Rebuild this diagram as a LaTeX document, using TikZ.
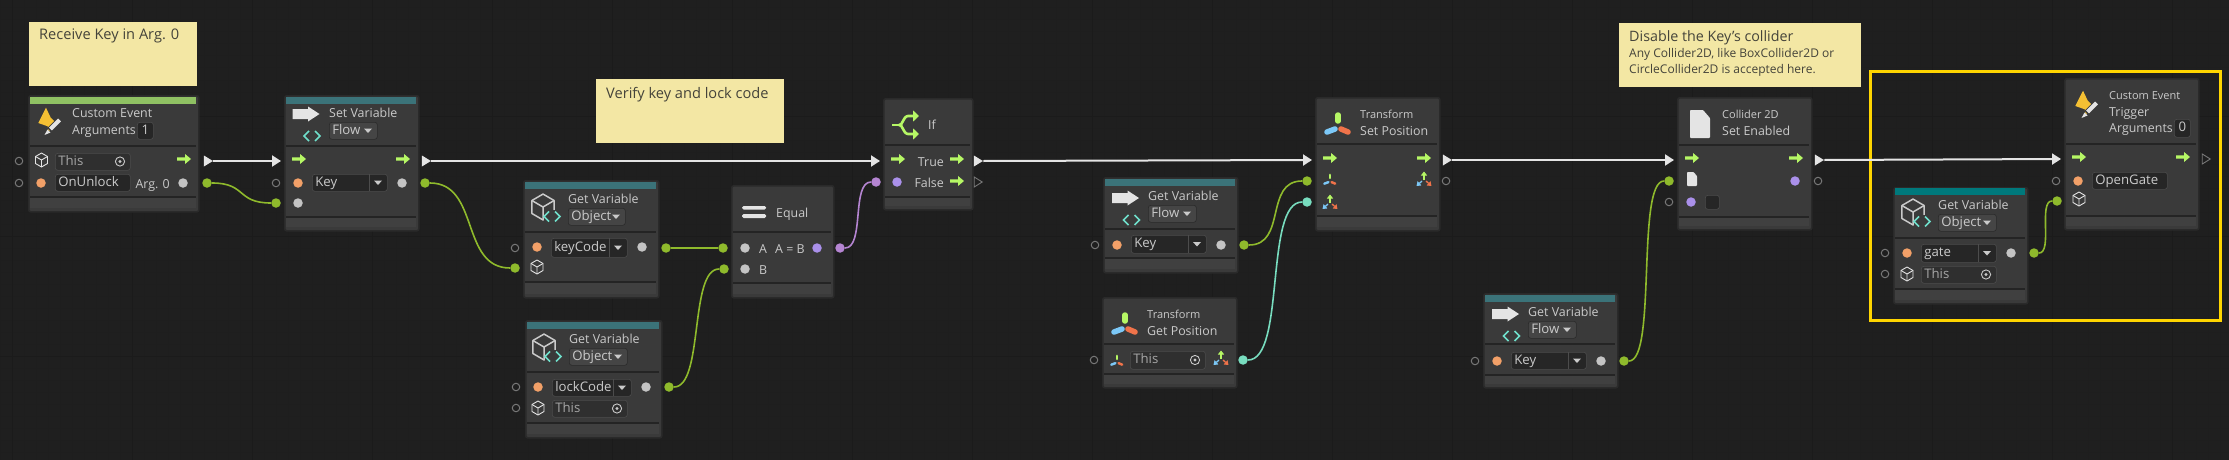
\documentclass[tikz,border=0pt]{standalone}
\usepackage{fontspec}
\setmainfont{Open Sans}
\usetikzlibrary{arrows.meta, shapes.geometric}

\definecolor{canvasBack}{HTML}{1F1F1F}
\definecolor{gridMinor}{HTML}{1E1E1E}
\definecolor{gridMajor}{HTML}{1B1B1B}
\definecolor{panelFill}{HTML}{3A3A3A}
\definecolor{panelFoot}{HTML}{404040}
\definecolor{panelEdge}{HTML}{2A2A2A}
\definecolor{panelRule}{HTML}{242424}
\definecolor{panelText}{HTML}{CACACA}
\definecolor{fieldFill}{HTML}{262626}
\definecolor{thisFill}{HTML}{2F2F2F}
\definecolor{dropFill}{HTML}{454545}
\definecolor{noteFill}{HTML}{F3E7A4}
\definecolor{noteText}{HTML}{44433A}
\definecolor{barGreen}{HTML}{8FC163}
\definecolor{barTeal}{HTML}{3B7379}
\definecolor{barGate}{HTML}{00797C}
\definecolor{flowGreen}{HTML}{B6F765}
\definecolor{flowWhite}{HTML}{E4E4E4}
\definecolor{wireGreen}{HTML}{8FBA2C}
\definecolor{wirePurple}{HTML}{B585D2}
\definecolor{wireTeal}{HTML}{78DDBF}
\definecolor{dotOrange}{HTML}{F2A068}
\definecolor{dotGrey}{HTML}{C4C4C4}
\definecolor{dotPurple}{HTML}{AA90EA}
\definecolor{hollowGrey}{HTML}{787878}
\definecolor{codeTeal}{HTML}{6FDFCB}
\definecolor{gizmoBlue}{HTML}{7CC8F7}
\definecolor{gizmoRed}{HTML}{F0734A}
\definecolor{boltYellow}{HTML}{F5C033}
\definecolor{frameYellow}{HTML}{FFD500}

\tikzset{
	panel/.style={draw=panelEdge, line width=1.6pt, fill=panelFill, rounded corners=2pt, inner sep=0pt, anchor=north west},
	rulerline/.style={panelRule, line width=1.6pt},
	notebox/.style={fill=noteFill, inner sep=0pt, anchor=north west},
	notetext/.style={text=noteText, inner sep=0pt, anchor=west, font=\fontsize{14.6}{17}\selectfont, text height=12pt, text depth=2pt},
	titletext/.style={text=panelText, inner sep=0pt, anchor=west, font=\fontsize{12.4}{16}\selectfont, text height=12pt, text depth=2pt},
	subtext/.style={text=panelText, inner sep=0pt, anchor=west, font=\fontsize{11}{14}\selectfont, text height=11pt, text depth=2pt},
	fieldbox/.style={draw=black!70, line width=.6pt, fill=fieldFill, rounded corners=2.5pt, inner xsep=3pt, inner ysep=0pt, anchor=north west, align=left, text=panelText, font=\fontsize{13.2}{16}\selectfont, text height=10pt, text depth=3pt},
	thisbox/.style={fieldbox, fill=thisFill, text=panelText!82!black},
	dropbox/.style={fieldbox, draw=panelEdge, fill=dropFill},
	hollowport/.style={circle, draw=hollowGrey, line width=1pt, minimum size=7.5pt, inner sep=0pt},
	dotport/.style={circle, fill=#1, minimum size=9.5pt, inner sep=0pt},
	wireport/.style={circle, fill=#1, minimum size=9.5pt, inner sep=0pt},
	flowport/.style={isosceles triangle, isosceles triangle stretches, fill=flowWhite, minimum width=11pt, minimum height=9pt, inner sep=0pt},
	flowfree/.style={isosceles triangle, isosceles triangle stretches, draw=hollowGrey, line width=.9pt, minimum width=10pt, minimum height=8pt, inner sep=0pt},
	flowwire/.style={flowWhite, line width=2pt, -{Triangle[length=9pt, width=11pt]}},
	wire/.style={#1, line width=1.6pt},
	gatherline/.style={line width=2.6pt, flowGreen},
	pics/flowmark/.style={code={
		\fill [flowGreen] (-7,-1.6) -- (1,-1.6) -- (1,-5) -- (7,0) -- (1,5) -- (1,1.6) -- (-7,1.6) -- cycle;
	}},
	pics/bigarrow/.style={code={
		\fill [flowWhite] (-13.5,-5) -- (2,-5) -- (2,-7.5) -- (13.5,0) -- (2,7.5) -- (2,5) -- (-13.5,5) -- cycle;
	}},
	pics/codemark/.style={code={
		\draw [codeTeal, line width=1.7pt] (-3,-5) -- (-8,0) -- (-3,5) (3,-5) -- (8,0) -- (3,5);
	}},
	pics/cubemark/.style={code={
		\draw [line join=round] (0,-7) -- (6,-3.5) -- (6,3.5) -- (0,7) -- (-6,3.5) -- (-6,-3.5) -- cycle;
		\draw [line join=round] (-6,-3.5) -- (0,0) -- (6,-3.5) (0,0) -- (0,7);
	}},
	pics/targetmark/.style={code={
		\draw [panelText, line width=.9pt] (0,0) circle (4.6);
		\fill [panelText] (0,0) circle (1.7);
	}},
	pics/caretmark/.style={code={
		\fill [panelText] (-4,-2) -- (4,-2) -- (0,2.5) -- cycle;
	}},
	pics/gizmomark/.style={code={
		\draw [flowGreen, line cap=round] (0,-8) -- (0,-2);
		\draw [gizmoBlue, line cap=round] (-11,9) -- (-3,6);
		\draw [gizmoRed, line cap=round] (3,6) -- (10,9);
	}},
	pics/gizmoarrows/.style={code={
		\draw [flowGreen, line width=1.3pt, -{Triangle[length=4pt, width=6pt]}] (0,1) -- (0,-7.5);
		\draw [gizmoBlue, line width=1.3pt, -{Triangle[length=4pt, width=5.5pt]}] (-2,2) -- (-7.5,7);
		\draw [gizmoRed, line width=1.3pt, -{Triangle[length=4pt, width=5.5pt]}] (2,2) -- (7.5,7);
	}},
	pics/boltmark/.style={code={
		\fill [boltYellow] (-4,-14.3) -- (-11.7,1) -- (-2.3,4.3) -- (-1.3,10) -- (5,0) -- (.7,-4.3) -- cycle;
		\draw [panelFill, line width=6pt] (-.5,8) -- (9.5,-2);
		\draw [flowWhite, line width=4pt] (.5,7) -- (9.5,-2);
		\fill [flowWhite] (-2.5,7.5) -- (-5.5,13) -- (.5,10.5) -- cycle;
	}},
	pics/docmark/.style={code={
		\fill [flowWhite, rounded corners=.8pt] (-10,-14) -- (3,-14) -- (10,-6) -- (10,14) -- (-10,14) -- cycle;
	}},
	pics/branchmark/.style={code={
		\draw [gatherline] (-14,0) -- (-6,0);
		\draw [gatherline, -{Triangle[length=6pt, width=11pt]}] (-7,0) to [out=-70, in=180] (2,-9) -- (13,-9);
		\draw [gatherline, -{Triangle[length=6pt, width=11pt]}] (-7,0) to [out=70, in=180] (2,9) -- (13,9);
	}},
}

\newcommand{\unitpanel}[7]{
	\node (#1) [panel, minimum width={(#4-#2)*1pt}, minimum height={(#5-#3)*1pt}] at (#2,#3) {};
	\fill [panelFoot] ({#2+2},#7) rectangle ({#4-2},{#5-3});
	\draw [rulerline] ({#2+2},#6) -- ({#4-2},#6) ({#2+2},#7) -- ({#4-2},#7);
}
\newcommand{\unitbar}[4]{
	\fill [#4] ({#1+2},{#2+2}) rectangle ({#3-2},{#2+9});
}
\newcommand{\notepanel}[5]{
	\node (#1) [notebox, minimum width={(#4-#2)*1pt}, minimum height={(#5-#3)*1pt}] at (#2,#3) {};
}
\newcommand{\textfield}[7][fieldbox]{
	\node (#2) [#1, minimum width={(#5-#3)*1pt}, minimum height={(#6-#4)*1pt}, text width={(#5-#3-6)*1pt}] at (#3,#4) {#7};
}
\newcommand{\thisfield}[5]{
	\textfield[thisbox]{#1}{#2}{#3}{#4}{#5}{This}
	\pic at ({#4-10},{(#3+#5)/2}) {targetmark};
}
\newcommand{\dropfield}[7]{
	\textfield{#1}{#2}{#3}{#4}{#5}{#7}
	\draw [black!70, line width=.8pt] (#6,#3) -- (#6,#5);
	\pic at ({(#6+#4)/2},{(#3+#5)/2}) {caretmark};
}
\newcommand{\headdrop}[5]{
	\textfield[dropbox]{#1}{#2}{#3}{#4}{{#3+17}}{#5}
	\pic at ({#4-9},{#3+8.5}) {caretmark};
}
\newcommand{\objecticon}[2]{
	\pic [panelText, line width=1.5pt, scale=1.85] at (#1,#2) {cubemark};
	\fill [panelFill] ({#1+1},{#2+3}) rectangle ({#1+19},{#2+16});
	\pic at ({#1+9},{#2+9.5}) {codemark};
}
\newcommand{\flowicon}[2]{
	\pic at (#1,#2) {bigarrow};
	\pic at ({#1+6},{#2+22}) {codemark};
}

\begin{document}
\begin{tikzpicture}[x=1pt, y=-1pt]
	\useasboundingbox (0,0) rectangle (2229,460);
	\fill [canvasBack] (0,0) rectangle (2229,460);

	\foreach \x in {0,12,...,2228} {\draw [gridMinor, line width=1pt] (\x,0) -- (\x,460);}
	\foreach \y in {8,20,...,459} {\draw [gridMinor, line width=1pt] (0,\y) -- (2229,\y);}
	\foreach \x in {12,132,...,2228} {\draw [gridMajor, line width=1pt] (\x,0) -- (\x,460);}
	\foreach \y in {116,236,356} {\draw [gridMajor, line width=1pt] (0,\y) -- (2229,\y);}

	\notepanel{keyNote}{29}{22}{197}{86}
	\node (keyNoteText) [notetext] at (39,35) {Receive Key in Arg. 0};
	\notepanel{verifyNote}{596}{79}{784}{143}
	\node (verifyNoteText) [notetext] at (606,93) {Verify key and lock code};
	\notepanel{colliderNote}{1619}{23}{1861}{87}
	\node (colliderNoteText) [notetext, font=\fontsize{14.3}{17}\selectfont] at (1629,37) {Disable the Key's collider};
	\node (colliderNoteMore) [notetext, font=\fontsize{12}{15}\selectfont, align=left, anchor=north west, text height=, text depth=] at (1629,48.5) {Any Collider2D, like BoxCollider2D or\\[.6pt]CircleCollider2D is accepted here.};

	\node (triggerFrame) [draw=frameYellow, line width=3pt, minimum width=350pt, minimum height=249pt, inner sep=0pt, anchor=north west] at (1869,70) {};

	\unitpanel{unlockEvent}{28}{95}{198}{211}{146}{197}
	\unitbar{28}{95}{198}{barGreen}
	\pic [line width=.1pt] at (50,122) {boltmark};
	\node (unlockTitle) [titletext] at (72,112) {Custom Event};
	\node (unlockArgs) [titletext] at (72,129) {Arguments};
	\textfield[fieldbox, align=center]{unlockCount}{137}{122}{153}{139}{1}
	\node (unlockHollowA) [hollowport] at (19,161) {};
	\node (unlockHollowB) [hollowport] at (19,183) {};
	\pic [flowWhite, line width=.9pt] at (41.5,160) {cubemark};
	\thisfield{unlockThis}{55}{153}{130}{170}
	\node (unlockName) [dotport=dotOrange] at (41,183) {};
	\textfield{unlockNameField}{55}{174}{130}{191}{OnUnlock}
	\node (unlockArgText) [titletext, anchor=east] at (170,183) {Arg. 0};
	\node (unlockArgDot) [dotport=dotGrey] at (183,183) {};
	\pic at (184,159) {flowmark};
	\node (unlockFlow) [flowport] at (207,161) {};
	\node (unlockArg) [wireport=wireGreen] at (207,183) {};

	\unitpanel{setVar}{284}{95}{418}{230}{146}{217}
	\unitbar{284}{95}{418}{barTeal}
	\flowicon{306}{114}
	\node (setVarTitle) [titletext] at (329,112) {Set Variable};
	\headdrop{setVarKind}{329}{122}{377}{Flow}
	\pic at (299,159) {flowmark};
	\pic at (403,159) {flowmark};
	\coordinate (setVarIn) at (281,161);
	\node (setVarHollow) [hollowport] at (276,183) {};
	\node (setVarName) [dotport=dotOrange] at (298,183) {};
	\dropfield{setVarField}{312}{174}{387}{191}{369}{Key}
	\node (setVarOut) [dotport=dotGrey] at (402,183) {};
	\node (setVarValue) [dotport=dotGrey] at (298,203) {};
	\node (setVarInPort) [wireport=wireGreen] at (276,203) {};
	\node (setVarFlow) [flowport] at (425,161) {};
	\node (setVarOutPort) [wireport=wireGreen] at (425,183) {};

	\unitpanel{keyCode}{523}{180}{658}{297}{232}{282}
	\unitbar{523}{180}{658}{barTeal}
	\objecticon{543}{207}
	\node (keyCodeTitle) [titletext] at (568,198) {Get Variable};
	\headdrop{keyCodeKind}{568}{208}{625}{Object}
	\node (keyCodeHollow) [hollowport] at (515,248) {};
	\node (keyCodeName) [dotport=dotOrange] at (537,247) {};
	\dropfield{keyCodeField}{551}{238}{627}{257}{609}{keyCode}
	\node (keyCodeDot) [dotport=dotGrey] at (642,247) {};
	\node (keyCodeOut) [wireport=wireGreen] at (666,248) {};
	\node (keyCodeIn) [wireport=wireGreen] at (515,268) {};
	\pic [flowWhite, line width=.9pt] at (537,267) {cubemark};

	\unitpanel{lockCode}{525}{320}{661}{437}{372}{423}
	\unitbar{525}{320}{661}{barTeal}
	\objecticon{544}{347}
	\node (lockCodeTitle) [titletext] at (569,338) {Get Variable};
	\headdrop{lockCodeKind}{569}{348}{627}{Object}
	\node (lockCodeHollowA) [hollowport] at (516,387) {};
	\node (lockCodeHollowB) [hollowport] at (516,408) {};
	\node (lockCodeName) [dotport=dotOrange] at (538,387) {};
	\dropfield{lockCodeField}{552}{379}{631}{396}{613}{lockCode}
	\pic [flowWhite, line width=.9pt] at (538,408) {cubemark};
	\thisfield{lockCodeThis}{552}{400}{627}{417}
	\node (lockCodeDot) [dotport=dotGrey] at (646,387) {};
	\node (lockCodeOut) [wireport=wireGreen] at (669,387) {};

	\unitpanel{equalUnit}{731}{185}{833}{297}{232}{283}
	\fill [flowWhite, rounded corners=1.5pt] (742,206) rectangle (766,209.5) (742,214) rectangle (766,218);
	\node (equalTitle) [titletext] at (776,212) {Equal};
	\node (equalA) [dotport=dotGrey] at (745,248) {};
	\node (equalB) [dotport=dotGrey] at (745,269) {};
	\node (equalAText) [titletext] at (759,248) {A};
	\node (equalBText) [titletext] at (759,269) {B};
	\node (equalOutText) [titletext] at (775,248) {A = B};
	\node (equalDot) [dotport=dotPurple] at (817,248) {};
	\node (equalInA) [wireport=wireGreen] at (723,248) {};
	\node (equalInB) [wireport=wireGreen] at (724,269) {};
	\node (equalOut) [wireport=wirePurple] at (840,248) {};

	\unitpanel{ifUnit}{883}{98}{972}{209}{145}{197}
	\pic at (906,125) {branchmark};
	\node (ifTitle) [titletext] at (928,124) {If};
	\pic at (898,159) {flowmark};
	\pic at (957,159) {flowmark};
	\pic at (957,181) {flowmark};
	\node (ifTrue) [titletext, anchor=east] at (944,161) {True};
	\node (ifFalse) [titletext, anchor=east] at (944,182) {False};
	\node (ifDot) [dotport=dotPurple] at (897,182) {};
	\node (ifIn) [wireport=wirePurple] at (876,182) {};
	\coordinate (ifFlowIn) at (880,161);
	\node (ifTrueFlow) [flowport] at (977,161) {};
	\node (ifFalseFlow) [flowfree] at (977,182) {};

	\unitpanel{keyVarA}{1103}{177}{1237}{272}{229}{258}
	\unitbar{1103}{177}{1237}{barTeal}
	\flowicon{1125.5}{198}
	\node (keyVarATitle) [titletext] at (1148,195) {Get Variable};
	\headdrop{keyVarAKind}{1148}{205}{1196}{Flow}
	\node (keyVarAHollow) [hollowport] at (1095,245) {};
	\node (keyVarAName) [dotport=dotOrange] at (1117,245) {};
	\dropfield{keyVarAField}{1131}{235}{1206}{253}{1188}{Key}
	\node (keyVarADot) [dotport=dotGrey] at (1221,245) {};
	\node (keyVarAOut) [wireport=wireGreen] at (1244,245) {};

	\unitpanel{getPos}{1102}{297}{1236}{387}{344}{374}
	\pic [line width=5.5pt] at (1125,323) {gizmomark};
	\node (getPosType) [subtext] at (1147,314) {Transform};
	\node (getPosTitle) [titletext] at (1147,330) {Get Position};
	\node (getPosHollow) [hollowport] at (1094,360) {};
	\pic [line width=2.4pt, scale=.52] at (1117,360) {gizmomark};
	\thisfield{getPosThis}{1130}{351}{1205}{369}
	\pic at (1221,358) {gizmoarrows};
	\node (getPosOut) [wireport=wireTeal] at (1243,360) {};

	\unitpanel{setPos}{1315}{97}{1439}{230}{144}{216}
	\pic [line width=5.5pt] at (1338,123) {gizmomark};
	\node (setPosType) [subtext] at (1360,114) {Transform};
	\node (setPosTitle) [titletext] at (1360,130) {Set Position};
	\pic at (1330,158) {flowmark};
	\pic at (1424,158) {flowmark};
	\pic [line width=2.4pt, scale=.52] at (1330,179) {gizmomark};
	\pic at (1330,202) {gizmoarrows};
	\pic at (1424,179) {gizmoarrows};
	\coordinate (setPosFlowIn) at (1312,160);
	\node (setPosInA) [wireport=wireGreen] at (1307,181) {};
	\node (setPosInB) [wireport=wireTeal] at (1307,202) {};
	\node (setPosFlow) [flowport] at (1446,160) {};
	\node (setPosHollow) [hollowport] at (1446,181) {};

	\unitpanel{keyVarB}{1483}{293}{1617}{387}{344}{375}
	\unitbar{1483}{293}{1617}{barTeal}
	\flowicon{1505.5}{314}
	\node (keyVarBTitle) [titletext] at (1528,311) {Get Variable};
	\headdrop{keyVarBKind}{1528}{321}{1576}{Flow}
	\node (keyVarBHollow) [hollowport] at (1475,361) {};
	\node (keyVarBName) [dotport=dotOrange] at (1497,361) {};
	\dropfield{keyVarBField}{1511}{352}{1586}{369}{1568}{Key}
	\node (keyVarBDot) [dotport=dotGrey] at (1601,361) {};
	\node (keyVarBOut) [wireport=wireGreen] at (1624,361) {};

	\unitpanel{colliderUnit}{1677}{97}{1811}{229}{145}{217}
	\pic at (1700,124) {docmark};
	\node (colliderType) [subtext] at (1722,114) {Collider 2D};
	\node (colliderTitle) [titletext] at (1722,130) {Set Enabled};
	\pic at (1692,158) {flowmark};
	\pic at (1796,158) {flowmark};
	\pic [scale=.5] at (1692,179) {docmark};
	\node (colliderOutDot) [dotport=dotPurple] at (1795,181) {};
	\node (colliderEnabled) [dotport=dotPurple] at (1691,202) {};
	\textfield{colliderCheck}{1705}{195}{1719}{209}{}
	\coordinate (colliderFlowIn) at (1674,160);
	\node (colliderIn) [wireport=wireGreen] at (1669,181) {};
	\node (colliderHollow) [hollowport] at (1669,202) {};
	\node (colliderFlow) [flowport] at (1818,160) {};
	\node (colliderOutHollow) [hollowport] at (1818,181) {};

	\unitpanel{gateVar}{1893}{187}{2027}{303}{238}{289}
	\unitbar{1893}{186}{2027}{barGate}
	\objecticon{1913}{212}
	\node (gateVarTitle) [titletext] at (1938,204) {Get Variable};
	\headdrop{gateVarKind}{1938}{214}{1996}{Object}
	\node (gateVarHollowA) [hollowport] at (1885,253) {};
	\node (gateVarHollowB) [hollowport] at (1885,274) {};
	\node (gateVarName) [dotport=dotOrange] at (1907,253) {};
	\dropfield{gateVarField}{1921}{244}{1996}{262}{1978}{gate}
	\pic [flowWhite, line width=.9pt] at (1907,274) {cubemark};
	\thisfield{gateVarThis}{1921}{266}{1996}{283}
	\node (gateVarDot) [dotport=dotGrey] at (2011,253) {};
	\node (gateVarOut) [wireport=wireGreen] at (2034,253) {};

	\unitpanel{triggerUnit}{2064}{78}{2198}{229}{144}{216}
	\pic [line width=.1pt] at (2087,105) {boltmark};
	\node (triggerType) [subtext] at (2109,95) {Custom Event};
	\node (triggerTitle) [titletext] at (2109,111) {Trigger};
	\node (triggerArgs) [titletext] at (2109,127) {Arguments};
	\textfield[fieldbox, align=center]{triggerCount}{2174}{119}{2190}{137}{0}
	\pic at (2079,157) {flowmark};
	\pic at (2183,157) {flowmark};
	\coordinate (triggerFlowIn) at (2061,159);
	\node (triggerHollow) [hollowport] at (2056,181) {};
	\node (triggerName) [dotport=dotOrange] at (2078,181) {};
	\textfield{triggerNameField}{2092}{172}{2167}{189}{OpenGate}
	\pic [flowWhite, line width=.9pt] at (2079,199) {cubemark};
	\node (triggerIn) [wireport=wireGreen] at (2057,201) {};
	\node (triggerFlow) [flowfree] at (2205,159) {};

	\begin{scope}
		\draw [flowwire] (unlockFlow.apex) -- (setVarIn);
		\draw [flowwire] (setVarFlow.apex) -- (ifFlowIn);
		\draw [flowwire] (ifTrueFlow.apex) -- (setPosFlowIn);
		\draw [flowwire] (setPosFlow.apex) -- (colliderFlowIn);
		\draw [flowwire] (colliderFlow.apex) -- (triggerFlowIn);
	\end{scope}

	\begin{scope}
		\draw [wire=wireGreen] (unlockArg) to [out = 0, in = 180, distance=35pt] (setVarInPort);
		\draw [wire=wireGreen] (setVarOutPort) to [out = 0, in = 180, distance=50pt] (keyCodeIn);
		\draw [wire=wireGreen] (keyCodeOut) -- (equalInA);
		\draw [wire=wireGreen] (lockCodeOut) to [out = 0, in = 180, distance=30pt] (equalInB);
		\draw [wire=wirePurple] (equalOut) to [out = 0, in = 180, distance=20pt] (ifIn);
		\draw [wire=wireGreen] (keyVarAOut) to [out = 0, in = 180, distance=38pt] (setPosInA);
		\draw [wire=wireTeal] (getPosOut) to [out = 0, in = 180, distance=38pt] (setPosInB);
		\draw [wire=wireGreen] (keyVarBOut) to [out = 0, in = 180, distance=28pt] (colliderIn);
		\draw [wire=wireGreen] (gateVarOut) to [out = 0, in = 180, distance=14pt] (triggerIn);
	\end{scope}
\end{tikzpicture}
\end{document}
